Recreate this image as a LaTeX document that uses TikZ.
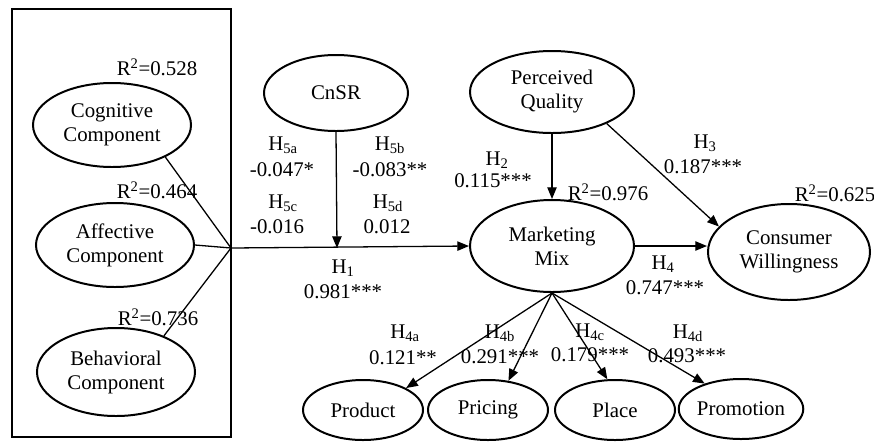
\documentclass[tikz,border=0pt]{standalone}
\usepackage{fontspec}
\setmainfont{Liberation Serif}
\usetikzlibrary{shapes.geometric,arrows.meta}

\begin{document}
\begin{tikzpicture}[x=0.03cm,y=-0.03cm,font=\fontsize{17.8}{20.5}\selectfont,
  construct/.style={ellipse,draw,line width=1.7pt,inner sep=0pt,align=center,minimum width=4.74cm,minimum height=2.52cm},
  mixpart/.style={ellipse,draw,line width=1.7pt,inner sep=0pt,minimum width=3.6cm,minimum height=1.8cm},
  path/.style={-{Triangle[length=10pt,width=8pt]},line width=1.1pt}]
\useasboundingbox (0,0) rectangle (874,441);
\draw [line width=1.4pt] (12,9) rectangle (231,437);
\node [construct] (cog) at (112,125) {Cognitive\\Component};
\node [construct] (aff) at (115,245) {Affective\\Component};
\node [construct,minimum height=2.64cm] (beh) at (116,372) {Behavioral\\Component};
\node (rcog) at (157,67) {R\textsuperscript{2}=0.528};
\node (raff) at (157,190) {R\textsuperscript{2}=0.464};
\node (rbeh) at (158,317) {R\textsuperscript{2}=0.736};
\coordinate (jn) at (231,248);
\node [construct,minimum width=4.32cm,minimum height=2.28cm] (cnsr) at (336,93) {CnSR};
\node [construct,minimum width=4.92cm,minimum height=2.46cm] (pq) at (552,92) {Perceived\\Quality};
\node [construct,minimum width=4.92cm,minimum height=2.76cm] (mm) at (552,246) {Marketing\\Mix};
\node [construct,minimum width=4.86cm,minimum height=2.88cm] (cw) at (789,252) {Consumer\\Willingness};
\node (rmm) at (608,192) {R\textsuperscript{2}=0.976};
\node (rcw) at (835,193) {R\textsuperscript{2}=0.625};
\coordinate (mod) at (337,248);
\node [mixpart] (prod) at (363,410) {Product};
\node [mixpart] (pric) at (488,410) {Pricing};
\node [mixpart] (plc) at (615,410) {Place};
\node [mixpart] (prom) at (741,409) {Promotion};
\draw [line width=1.1pt] (cog.-31) -- (jn);
\draw [line width=1.1pt] (aff.east) -- (jn);
\draw [line width=1.1pt] (beh.37) -- (jn);
\draw [path] (jn) -- (mm.west);
\draw [path] (cnsr.south) -- (mod);
\draw [path] (pq.south) -- (mm.north);
\draw [path] (pq.-30) -- (cw.160);
\draw [path] (mm.east) -- (mm.east -| cw.west);
\draw [path] (mm.south) -- (prod.27);
\draw [path] (mm.south) -- (pric.55);
\draw [path] (mm.south) -- (plc.104);
\draw [path] (mm.south) -- (prom.145);
\node (h5a) at (283,145) {H\textsubscript{5a}};
\node (v5a) at (282,170) {-0.047*};
\node (h5b) at (390,145) {H\textsubscript{5b}};
\node (v5b) at (390,170) {-0.083**};
\node (h5c) at (283,203) {H\textsubscript{5c}};
\node (v5c) at (277,227) {-0.016};
\node (h5d) at (388,203) {H\textsubscript{5d}};
\node (v5d) at (387,227) {0.012};
\node (h1) at (343,268) {H\textsubscript{1}};
\node (v1) at (343,292) {0.981***};
\node (h2) at (497,160) {H\textsubscript{2}};
\node (v2) at (493,181) {0.115***};
\node (h3) at (705,143) {H\textsubscript{3}};
\node (v3) at (703,167) {0.187***};
\node (h4) at (663,264) {H\textsubscript{4}};
\node (v4) at (665,288) {0.747***};
\node (h4a) at (405,333) {H\textsubscript{4a}};
\node (v4a) at (403,358) {0.121**};
\node (h4b) at (500,333) {H\textsubscript{4b}};
\node (v4b) at (500,357) {0.291***};
\node (h4c) at (590,332) {H\textsubscript{4c}};
\node (v4c) at (590,355) {0.179***};
\node (h4d) at (688,333) {H\textsubscript{4d}};
\node (v4d) at (687,356) {0.493***};
\end{tikzpicture}
\end{document}
